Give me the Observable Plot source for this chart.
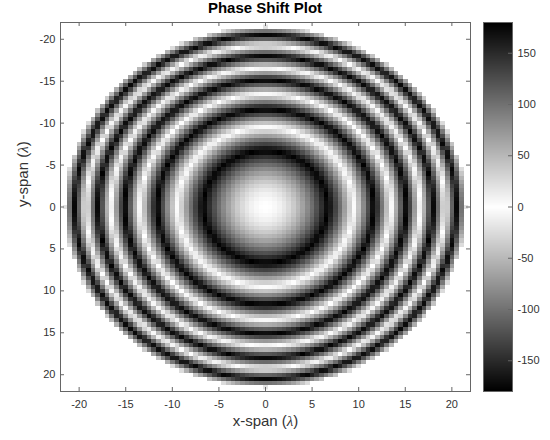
<!DOCTYPE html>
<html>
<head>
<meta charset="utf-8">
<script src="https://cdn.jsdelivr.net/npm/d3@7"></script>
<script src="https://cdn.jsdelivr.net/npm/@observablehq/plot@0.6"></script>
<style>
  html, body { margin: 0; padding: 0; background: #fff; }
  #fig { position: relative; width: 550px; height: 440px; font-family: "Liberation Sans", Arial, sans-serif; }
  #title { position: absolute; left: 0; top: 0; width: 530px; text-align: center; font-weight: bold; font-size: 15px; line-height: 16px; color: #000; }
  #main { position: absolute; left: 0; top: 16px; }
  #cbar { position: absolute; left: 470px; top: 16px; }
</style>
</head>
<body>
<div id="fig">
  <div id="title">Phase Shift Plot</div>
  <div id="main"></div>
  <div id="cbar"></div>
</div>
<script>
// Sample grid of the aperture, in wavelengths
const gridStep = 0.5;
const gridX = d3.range(-21.5, 21.5 + 1e-9, gridStep);
const gridY = d3.range(-21.5, 21.5 + 1e-9, gridStep);
const apertureRadius = 21.5;   // λ
const focalLength = 44.3;      // λ

// Axis ticks and scale extents
const xTicks = [-20, -15, -10, -5, 0, 5, 10, 15, 20];
const yTicks = [-20, -15, -10, -5, 0, 5, 10, 15, 20];
const colorTicks = [-150, -100, -50, 0, 50, 100, 150];
const axisDomain = [-22, 22];
const phaseDomain = [-180, 180];

// Focusing lens phase, -360·(√(r²+F²) − F) degrees, folded into [-180, 180)
const wrap = p => (((p + 180) % 360) + 360) % 360 - 180;
const cells = [];
for (const y of gridY) {
  for (const x of gridX) {
    const r = Math.hypot(x, y);
    if (r > apertureRadius) continue;
    const path = Math.sqrt(r * r + focalLength * focalLength) - focalLength;
    cells.push({x, y, phase: wrap(-360 * path)});
  }
}

const W = 550, H = 424, mt = 6, mb = 49, ml = 60, mr = 80;
const fw = W - ml - mr, fh = H - mt - mb;
const frameColor = "#666";
const textColor = "#333";
const tickLen = 4;
const plain = d => String(d);   // hyphen-minus tick labels
const grayScale = {type: "linear", domain: [phaseDomain[0], 0, phaseDomain[1]], range: ["#000", "#fff", "#000"]};
const baseStyle = {fontFamily: "'Liberation Sans', Arial, sans-serif", fontSize: "11px", color: textColor, background: "transparent"};

const main = Plot.plot({
  width: W, height: H,
  marginTop: mt, marginBottom: mb, marginLeft: ml, marginRight: mr,
  style: baseStyle,
  x: {domain: axisDomain},
  y: {domain: axisDomain, reverse: true},
  color: grayScale,
  marks: [
    Plot.raster(cells, {
      x: "x", y: "y", fill: "phase",
      x1: gridX[0] - gridStep / 2, x2: gridX[gridX.length - 1] + gridStep / 2,
      y1: gridY[0] - gridStep / 2, y2: gridY[gridY.length - 1] + gridStep / 2,
      width: gridX.length, height: gridY.length,
      imageRendering: "pixelated"
    }),
    Plot.frame({stroke: frameColor}),
    // inward ticks on all four sides
    Plot.ruleX(xTicks, {x: d => d, insetTop: fh - tickLen, stroke: frameColor}),
    Plot.ruleX(xTicks, {x: d => d, insetBottom: fh - tickLen, stroke: frameColor}),
    Plot.ruleY(yTicks, {y: d => d, insetRight: fw - tickLen, stroke: frameColor}),
    Plot.ruleY(yTicks, {y: d => d, insetLeft: fw - tickLen, stroke: frameColor}),
    Plot.axisX(xTicks, {anchor: "bottom", tickSize: 0, tickPadding: 9, tickFormat: plain, label: null}),
    Plot.axisY(yTicks, {anchor: "left", tickSize: 0, tickPadding: 5, tickFormat: plain, label: null}),
    Plot.text(["x-span (λ)"], {text: d => d, frameAnchor: "bottom", dy: 34, fontSize: 15}),
    Plot.text(["y-span (λ)"], {text: d => d, frameAnchor: "left", dx: -37, rotate: -90, fontSize: 15})
  ]
});

const cbW = 80, cml = 13, cmr = 38;
const barW = cbW - cml - cmr;
const cbar = Plot.plot({
  width: cbW, height: H,
  marginTop: mt, marginBottom: mb, marginLeft: cml, marginRight: cmr,
  style: baseStyle,
  x: {domain: [0, 1], axis: null},
  y: {domain: phaseDomain},
  color: grayScale,
  marks: [
    Plot.raster({fill: (x, y) => y, x1: 0, x2: 1, y1: phaseDomain[0], y2: phaseDomain[1], pixelSize: 1}),
    Plot.frame({stroke: frameColor}),
    Plot.ruleY(colorTicks, {y: d => d, insetLeft: barW - tickLen, stroke: frameColor}),
    Plot.axisY(colorTicks, {anchor: "right", tickSize: 0, tickPadding: 5, tickFormat: plain, label: null})
  ]
});

// set the λ of the axis titles in a math-style serif
for (const t of main.querySelectorAll("text")) {
  const s = t.textContent;
  const i = s.indexOf("λ");
  if (i < 0) continue;
  t.textContent = "";
  const ts = document.createElementNS("http://www.w3.org/2000/svg", "tspan");
  ts.setAttribute("font-family", "'Liberation Serif', 'DejaVu Serif', serif");
  ts.setAttribute("font-style", "italic");
  ts.textContent = "λ";
  t.append(s.slice(0, i), ts, s.slice(i + 1));
}

document.getElementById("main").append(main);
document.getElementById("cbar").append(cbar);
</script>
</body>
</html>
